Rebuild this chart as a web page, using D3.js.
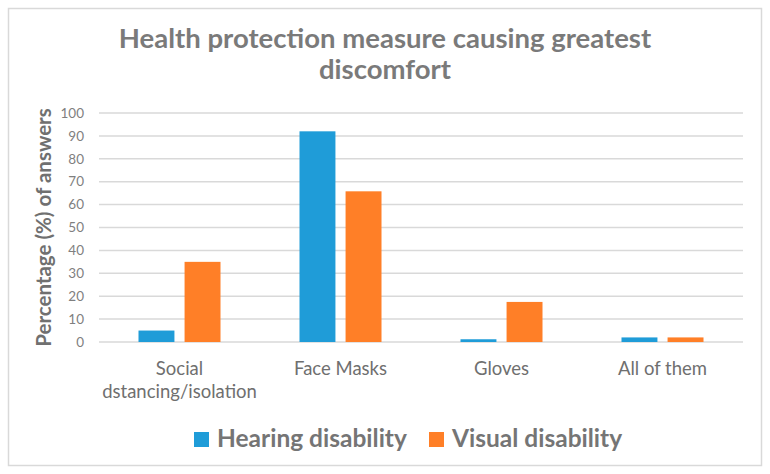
<!DOCTYPE html>
<html>
<head>
<meta charset="utf-8">
<script src="https://cdn.jsdelivr.net/npm/d3@7"></script>
<style>
  body { margin: 0; background: #fff; }
  text { font-family: Lato, "Open Sans", sans-serif; }
</style>
</head>
<body>
<div id="chart"></div>
<script>
var categories = [["Social", "dstancing/isolation"], ["Face Masks"], ["Gloves"], ["All of them"]];
var seriesNames = ["Hearing disability", "Visual disability"];
var hearing = [5, 92, 1.2, 2];
var visual = [35, 65.8, 17.5, 2];
var yTicks = [0, 10, 20, 30, 40, 50, 60, 70, 80, 90, 100];
var colors = ["#1f9cd8", "#ff7f27"];

var W = 770, H = 474;
var m = { left: 99, right: 27, top: 113, bottom: 132 };

var svg = d3.select("#chart").append("svg")
  .attr("width", W).attr("height", H);

svg.append("rect")
  .attr("x", 8.5).attr("y", 8.5)
  .attr("width", W - 17).attr("height", H - 17)
  .attr("fill", "#fff").attr("stroke", "#d9d9d9").attr("stroke-width", 1.5);

var x0 = d3.scaleBand()
  .domain(d3.range(categories.length))
  .range([m.left, W - m.right]);

var x1 = d3.scaleBand()
  .domain([0, 1])
  .range([0, 82])
  .paddingInner(0.22);

var y = d3.scaleLinear().domain([0, 100]).range([H - m.bottom, m.top]);

// gridlines
svg.append("g").selectAll("line")
  .data(yTicks).enter().append("line")
  .attr("x1", m.left).attr("x2", W - m.right)
  .attr("y1", function (d) { return y(d); })
  .attr("y2", function (d) { return y(d); })
  .attr("stroke", "#d9d9d9").attr("stroke-width", 1.5);

// y tick labels
svg.append("g").selectAll("text")
  .data(yTicks).enter().append("text")
  .attr("x", m.left - 15)
  .attr("y", function (d) { return y(d); })
  .attr("dy", "0.35em")
  .attr("text-anchor", "end")
  .attr("font-size", 13.5)
  .attr("fill", "#7f7f7f")
  .text(function (d) { return d; });

// bars
var groups = svg.append("g").selectAll("g")
  .data(categories).enter().append("g")
  .attr("transform", function (d, i) {
    return "translate(" + (x0(i) + (x0.bandwidth() - 82) / 2) + ",0)";
  });

groups.selectAll("rect")
  .data(function (d, i) { return [hearing[i], visual[i]]; })
  .enter().append("rect")
  .attr("x", function (d, j) { return x1(j); })
  .attr("width", x1.bandwidth())
  .attr("y", function (d) { return y(d); })
  .attr("height", function (d) { return y(0) - y(d); })
  .attr("fill", function (d, j) { return colors[j]; });

// x labels
var xl = svg.append("g").selectAll("text")
  .data(categories).enter().append("text")
  .attr("x", function (d, i) { return x0(i) + x0.bandwidth() / 2; })
  .attr("y", 375)
  .attr("text-anchor", "middle")
  .attr("font-size", 18.5)
  .attr("fill", "#6f6f6f");
xl.selectAll("tspan")
  .data(function (d) { return d; })
  .enter().append("tspan")
  .attr("x", function () { return d3.select(this.parentNode).attr("x"); })
  .attr("dy", function (d, k) { return k ? 23 : 0; })
  .text(function (d) { return d; });

// title
svg.append("text")
  .attr("x", 385).attr("text-anchor", "middle")
  .attr("font-size", 27.5).attr("font-weight", "bold").attr("fill", "#7a7a7a")
  .selectAll("tspan")
  .data(["Health protection measure causing greatest", "discomfort"])
  .enter().append("tspan")
  .attr("x", 385)
  .attr("y", function (d, i) { return 48 + i * 31; })
  .text(function (d) { return d; });

// y axis title
svg.append("text")
  .attr("transform", "translate(51," + ((y(0) + y(100)) / 2) + ") rotate(-90)")
  .attr("text-anchor", "middle")
  .attr("font-size", 20.5).attr("font-weight", "bold").attr("fill", "#707070")
  .text("Percentage (%) of answers");

// legend
var legX = [194, 429];
var leg = svg.append("g").selectAll("g")
  .data(seriesNames).enter().append("g")
  .attr("transform", function (d, i) { return "translate(" + legX[i] + ",432)"; });
leg.append("rect")
  .attr("width", 15).attr("height", 15)
  .attr("fill", function (d, i) { return colors[i]; });
leg.append("text")
  .attr("x", 23).attr("y", 14.5)
  .attr("font-size", 24.5).attr("font-weight", "bold").attr("fill", "#757575")
  .text(function (d) { return d; });
</script>
</body>
</html>
